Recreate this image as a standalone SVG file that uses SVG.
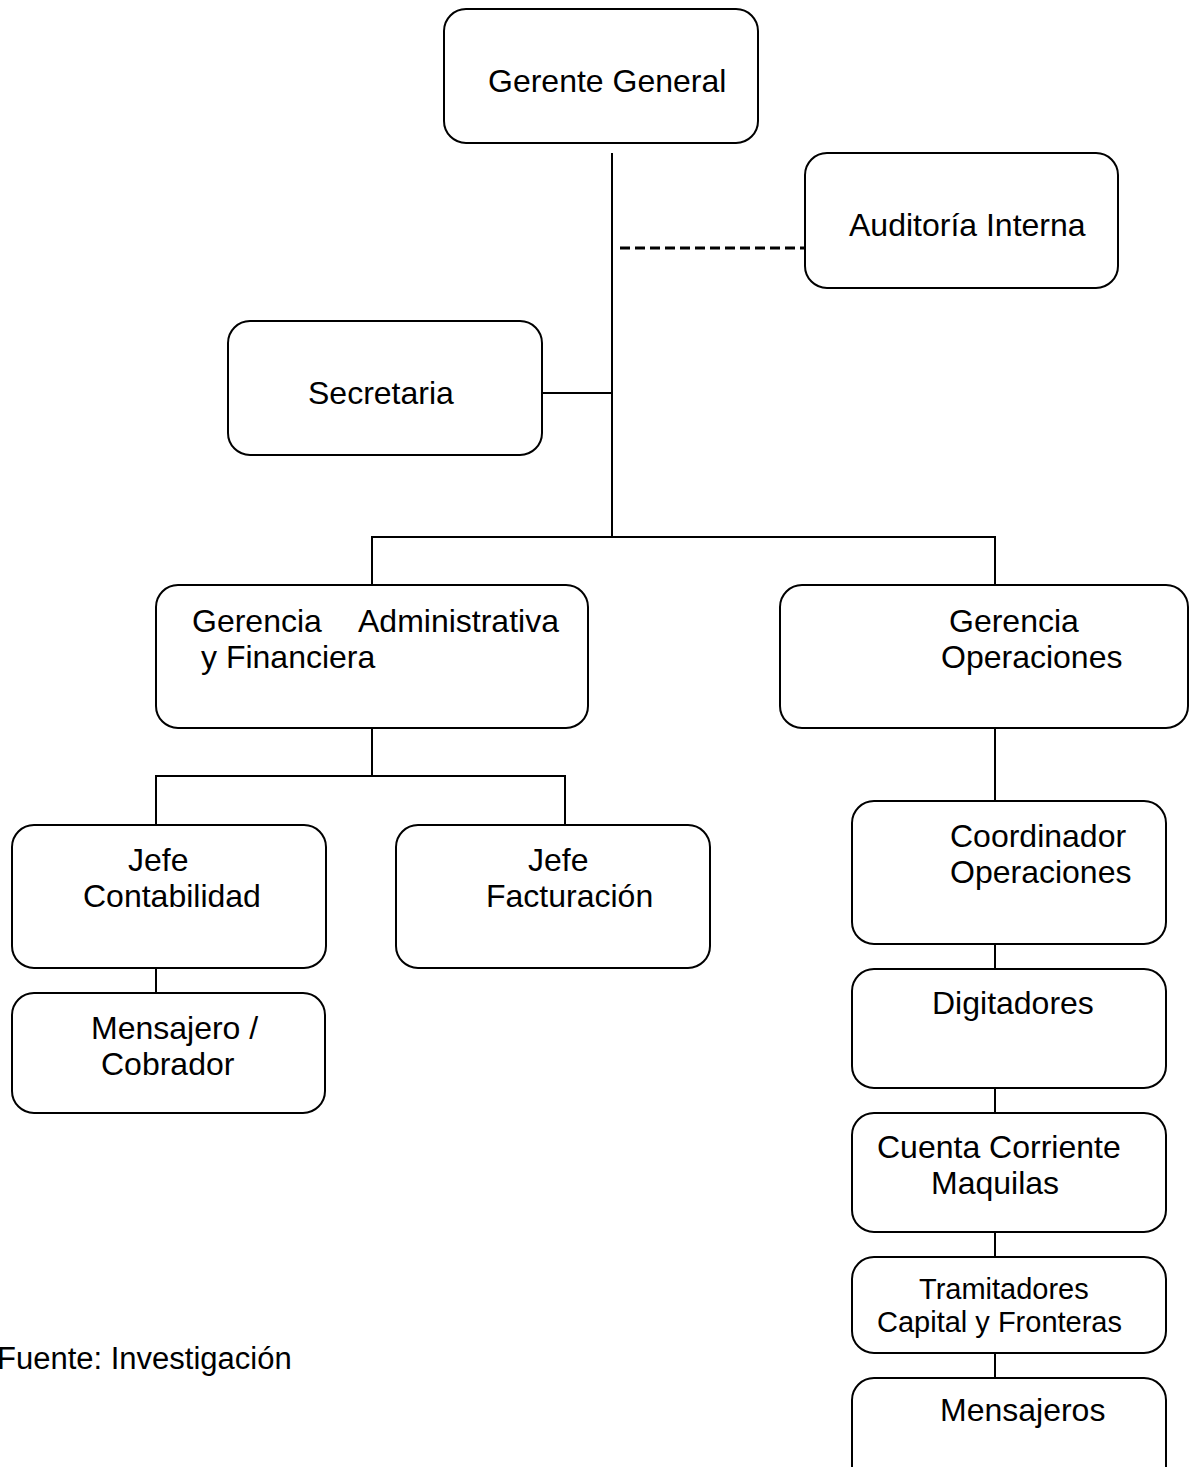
<svg xmlns="http://www.w3.org/2000/svg" width="1193" height="1467" viewBox="0 0 1193 1467">
<style>
.box{fill:#fff;stroke:#000;stroke-width:2}
.ln{fill:none;stroke:#000;stroke-width:2}
.dash{fill:none;stroke:#000;stroke-width:3;stroke-dasharray:10,5}
text{font-family:"Liberation Sans",Arial,sans-serif;font-size:32px;fill:#000}
.sm{font-size:29px}
.src{font-size:31px}
</style>
<rect width="1193" height="1467" fill="#fff"/>
<g id="connectors">
<path class="ln" d="M612 153V537"/>
<path class="dash" d="M620 248H804"/>
<path class="ln" d="M541 393H612"/>
<path class="ln" d="M372 585V537H995V585"/>
<path class="ln" d="M372 728V776"/>
<path class="ln" d="M156 825V776H565V825"/>
<path class="ln" d="M156 968V993"/>
<path class="ln" d="M995 728V801"/>
<path class="ln" d="M995 944V969"/>
<path class="ln" d="M995 1088V1113"/>
<path class="ln" d="M995 1232V1257"/>
<path class="ln" d="M995 1353V1378"/>
</g>
<g id="gerente-general">
<rect class="box" x="444" y="9" width="314" height="134" rx="22"/>
<text x="488" y="92">Gerente General</text>
</g>
<g id="auditoria-interna">
<rect class="box" x="805" y="153" width="313" height="135" rx="22"/>
<text x="849" y="236">Auditoría Interna</text>
</g>
<g id="secretaria">
<rect class="box" x="228" y="321" width="314" height="134" rx="22"/>
<text x="308" y="404">Secretaria</text>
</g>
<g id="gerencia-admin">
<rect class="box" x="156" y="585" width="432" height="143" rx="22"/>
<text x="192" y="632">Gerencia</text>
<text x="358" y="632">Administrativa</text>
<text x="201" y="668">y Financiera</text>
</g>
<g id="gerencia-operaciones">
<rect class="box" x="780" y="585" width="408" height="143" rx="22"/>
<text x="949" y="632">Gerencia</text>
<text x="941" y="668">Operaciones</text>
</g>
<g id="jefe-contabilidad">
<rect class="box" x="12" y="825" width="314" height="143" rx="22"/>
<text x="128" y="871">Jefe</text>
<text x="83" y="907">Contabilidad</text>
</g>
<g id="jefe-facturacion">
<rect class="box" x="396" y="825" width="314" height="143" rx="22"/>
<text x="528" y="871">Jefe</text>
<text x="486" y="907">Facturación</text>
</g>
<g id="mensajero-cobrador">
<rect class="box" x="12" y="993" width="313" height="120" rx="22"/>
<text x="91" y="1039">Mensajero /</text>
<text x="101" y="1075">Cobrador</text>
</g>
<g id="coordinador-operaciones">
<rect class="box" x="852" y="801" width="314" height="143" rx="22"/>
<text x="950" y="847">Coordinador</text>
<text x="950" y="883">Operaciones</text>
</g>
<g id="digitadores">
<rect class="box" x="852" y="969" width="314" height="119" rx="22"/>
<text x="932" y="1014">Digitadores</text>
</g>
<g id="cuenta-corriente">
<rect class="box" x="852" y="1113" width="314" height="119" rx="22"/>
<text x="877" y="1158">Cuenta Corriente</text>
<text x="931" y="1194">Maquilas</text>
</g>
<g id="tramitadores">
<rect class="box" x="852" y="1257" width="314" height="96" rx="22"/>
<text class="sm" x="919" y="1299">Tramitadores</text>
<text class="sm" x="877" y="1332">Capital y Fronteras</text>
</g>
<g id="mensajeros">
<rect class="box" x="852" y="1378" width="314" height="110" rx="22"/>
<text x="940" y="1421">Mensajeros</text>
</g>
<text class="src" x="-3" y="1369">Fuente: Investigación</text>
</svg>
